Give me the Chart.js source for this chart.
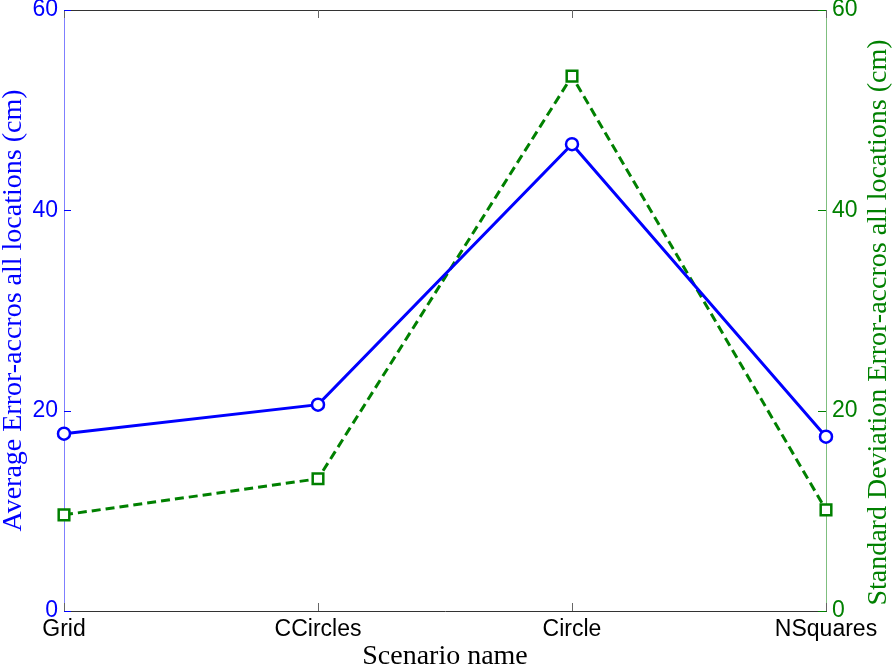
<!DOCTYPE html>
<html>
<head>
<meta charset="utf-8">
<script src="https://cdn.jsdelivr.net/npm/chart.js@4.4.1/dist/chart.umd.min.js"></script>
<style>
  html, body { margin: 0; padding: 0; background: #fff; }
  canvas { display: block; }
</style>
</head>
<body>
<canvas id="graphique" width="892" height="668"></canvas>
<script>
const scenarios = ['Grid', 'CCircles', 'Circle', 'NSquares'];
const avgError = [17.7, 20.6, 46.6, 17.4];
const stdError = [9.6, 13.2, 53.4, 10.1];
const yTicks = [0, 20, 40, 60];

const xTitle = 'Scenario name';
const leftTitle = 'Average Error-accros all locations (cm)';
const rightTitle = 'Standard Deviation Error-accros all locations (cm)';

const BLUE = '#0000ff';
const GREEN = '#008000';
const tickFont = { family: 'Liberation Sans', size: 23 };
const titleFont = '28px "Liberation Serif"';

// axis titles, top border and the inward tick marks
const decor = {
  id: 'decor',
  afterDraw(chart) {
    const ctx = chart.ctx;
    const a = chart.chartArea;
    const sx = chart.scales.x, sy = chart.scales.y, sy1 = chart.scales.y1;
    ctx.save();
    ctx.lineWidth = 1;

    ctx.strokeStyle = '#333';
    ctx.beginPath();
    ctx.moveTo(a.left, a.top + 0.5);
    ctx.lineTo(a.right, a.top + 0.5);
    ctx.stroke();

    ctx.strokeStyle = '#666';
    scenarios.forEach((s, i) => {
      const x = Math.round(sx.getPixelForValue(i)) + 0.5;
      ctx.beginPath();
      ctx.moveTo(x, a.bottom); ctx.lineTo(x, a.bottom - 8);
      ctx.moveTo(x, a.top); ctx.lineTo(x, a.top + 8);
      ctx.stroke();
    });

    yTicks.forEach(v => {
      const y = Math.round(sy.getPixelForValue(v)) + 0.5;
      ctx.strokeStyle = BLUE;
      ctx.beginPath(); ctx.moveTo(a.left, y); ctx.lineTo(a.left + 7, y); ctx.stroke();
      const y1 = Math.round(sy1.getPixelForValue(v)) + 0.5;
      ctx.strokeStyle = GREEN;
      ctx.beginPath(); ctx.moveTo(a.right - 8, y1); ctx.lineTo(a.right, y1); ctx.stroke();
    });

    ctx.font = titleFont;
    ctx.textAlign = 'center';
    ctx.textBaseline = 'middle';
    const midY = (a.top + a.bottom) / 2;

    ctx.fillStyle = '#000';
    ctx.fillText(xTitle, (a.left + a.right) / 2, 657);

    ctx.save();
    ctx.translate(14, midY);
    ctx.rotate(-Math.PI / 2);
    ctx.fillStyle = BLUE;
    ctx.fillText(leftTitle, 0, 0);
    ctx.restore();

    ctx.save();
    ctx.translate(879, midY + 12);
    ctx.rotate(-Math.PI / 2);
    ctx.fillStyle = GREEN;
    ctx.fillText(rightTitle, 0, 0);
    ctx.restore();

    ctx.restore();
  }
};

const ctx = document.getElementById('graphique').getContext('2d');

new Chart(ctx, {
  type: 'line',
  data: {
    labels: scenarios,
    datasets: [
      {
        label: 'Average Error',
        data: avgError,
        yAxisID: 'y',
        borderColor: BLUE,
        borderWidth: 3,
        pointStyle: 'circle',
        pointRadius: 6,
        pointBorderWidth: 2.5,
        pointBackgroundColor: '#fff',
        pointBorderColor: BLUE,
        tension: 0,
        clip: false
      },
      {
        label: 'Standard Deviation',
        data: stdError,
        yAxisID: 'y1',
        borderColor: GREEN,
        borderWidth: 3,
        borderDash: [9, 5],
        pointStyle: 'rect',
        pointRadius: 7.5,
        pointBorderWidth: 2.5,
        pointBackgroundColor: '#fff',
        pointBorderColor: GREEN,
        tension: 0,
        clip: false
      }
    ]
  },
  options: {
    responsive: false,
    animation: false,
    layout: { padding: { top: 9, left: 0, right: 0, bottom: 0 } },
    plugins: {
      legend: { display: false },
      tooltip: { enabled: false }
    },
    scales: {
      x: {
        offset: false,
        grid: { display: false, drawTicks: false },
        border: { display: true, color: '#333', width: 1 },
        ticks: { color: '#000', font: tickFont, padding: 5, maxRotation: 0, autoSkip: false },
        afterFit(scale) {
          scale.height = 57;
          scale.paddingLeft = 0;
          scale.paddingRight = 0;
        }
      },
      y: {
        position: 'left',
        min: 0,
        max: 60,
        grid: { display: false, drawTicks: false },
        border: { display: true, color: 'rgba(0,0,255,0.5)', width: 1 },
        ticks: { color: BLUE, font: tickFont, padding: 6 },
        afterBuildTicks(scale) { scale.ticks = yTicks.map(v => ({ value: v })); },
        afterFit(scale) {
          scale.width = 64;
          scale.paddingTop = 0;
          scale.paddingBottom = 0;
        }
      },
      y1: {
        position: 'right',
        min: 0,
        max: 60,
        grid: { display: false, drawTicks: false },
        border: { display: true, color: 'rgba(0,128,0,0.5)', width: 1 },
        ticks: { color: GREEN, font: tickFont, padding: 6 },
        afterBuildTicks(scale) { scale.ticks = yTicks.map(v => ({ value: v })); },
        afterFit(scale) {
          scale.width = 66;
          scale.paddingTop = 0;
          scale.paddingBottom = 0;
        }
      }
    }
  },
  plugins: [decor]
});
</script>
</body>
</html>
